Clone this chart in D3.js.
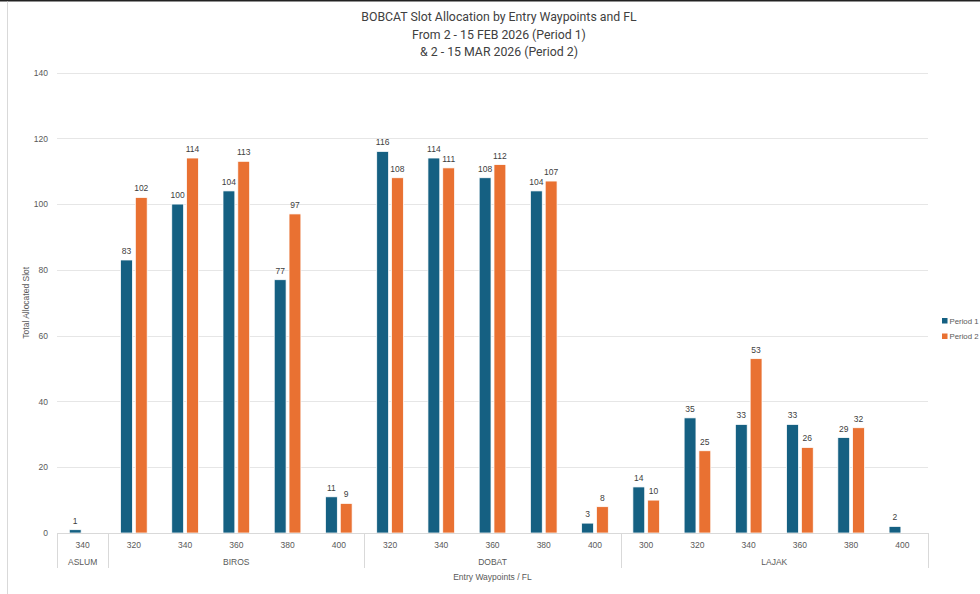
<!DOCTYPE html>
<html>
<head>
<meta charset="utf-8">
<script src="https://cdn.jsdelivr.net/npm/d3@7"></script>
<style>
  html, body { margin: 0; padding: 0; background: #fff; }
  svg { display: block; font-family: "Liberation Sans", Arial, sans-serif; }
</style>
</head>
<body>
<svg id="chart" width="980" height="594"></svg>
<script>
// Entry waypoint and flight level of each category on the x axis
const waypoints = ["ASLUM", "BIROS", "BIROS", "BIROS", "BIROS", "BIROS",
  "DOBAT", "DOBAT", "DOBAT", "DOBAT", "DOBAT",
  "LAJAK", "LAJAK", "LAJAK", "LAJAK", "LAJAK", "LAJAK"];
const flightLevels = ["340", "320", "340", "360", "380", "400",
  "320", "340", "360", "380", "400",
  "300", "320", "340", "360", "380", "400"];
// Allocated slots per period (null = no slots)
const period1 = [1, 83, 100, 104, 77, 11, 116, 114, 108, 104, 3, 14, 35, 33, 33, 29, 2];
const period2 = [null, 102, 114, 113, 97, 9, 108, 111, 112, 107, 8, 10, 25, 53, 26, 32, null];
const seriesNames = ["Period 1", "Period 2"];
const seriesColors = ["#156082", "#E97132"];
const yTicks = [0, 20, 40, 60, 80, 100, 120, 140];
const titleLines = ["BOBCAT Slot Allocation by Entry Waypoints and FL",
  "From 2 - 15 FEB 2026 (Period 1)",
  "& 2 - 15 MAR 2026 (Period 2)"];

const svg = d3.select("#chart");
const W = 980, H = 594;
const plot = { left: 57, right: 928, top: 72.5, bottom: 533 };

// chart frame
svg.append("line").attr("x1", 0).attr("x2", W).attr("y1", 0.75).attr("y2", 0.75)
  .attr("stroke", "#222").attr("stroke-width", 1.5);
svg.append("line").attr("x1", 7.5).attr("x2", 7.5).attr("y1", 1.5).attr("y2", H)
  .attr("stroke", "#d9d9d9").attr("stroke-width", 1);

// title
svg.append("g").selectAll("text").data(titleLines).join("text")
  .attr("x", 499).attr("y", (d, i) => 21 + i * 17.5)
  .attr("text-anchor", "middle")
  .attr("font-family", "Roboto, sans-serif")
  .attr("font-size", 12.3).attr("fill", "#404040")
  .text(d => d);

const idx = d3.range(waypoints.length);
const x = d3.scaleBand().domain(idx).range([plot.left, plot.right]).padding(0);
const bw = x.bandwidth();
const x1 = d3.scaleBand().domain([0, 1]).range([bw * 0.24, bw * 0.76]).paddingInner(0.2);
const y = d3.scaleLinear().domain([0, 140]).range([plot.bottom, plot.top]);

// gridlines
svg.append("g").selectAll("line").data(yTicks.filter(t => t > 0)).join("line")
  .attr("x1", plot.left).attr("x2", plot.right)
  .attr("y1", d => Math.round(y(d)) + 0.5).attr("y2", d => Math.round(y(d)) + 0.5)
  .attr("stroke", "#e6e6e6").attr("stroke-width", 1);

// y axis tick labels
const yAxis = d3.axisLeft(y).tickValues(yTicks).tickSize(0).tickPadding(0);
const yg = svg.append("g").attr("transform", `translate(${plot.left - 9},0)`).call(yAxis);
yg.select(".domain").remove();
yg.selectAll("text").attr("font-size", 8.5).attr("fill", "#595959")
  .attr("font-family", "'Liberation Sans', Arial, sans-serif");

// y axis title
svg.append("text")
  .attr("transform", `translate(29,${(plot.top + plot.bottom) / 2}) rotate(-90)`)
  .attr("text-anchor", "middle").attr("font-size", 8.5).attr("fill", "#595959")
  .text("Total Allocated Slot");

// bars
const series = [period1, period2];
const barData = [];
idx.forEach(i => series.forEach((s, k) => {
  if (s[i] != null) barData.push({ i, k, v: s[i] });
}));
svg.append("g").selectAll("rect").data(barData).join("rect")
  .attr("x", d => x(d.i) + x1(d.k))
  .attr("width", x1.bandwidth())
  .attr("y", d => y(d.v))
  .attr("height", d => y(0) - y(d.v))
  .attr("fill", d => seriesColors[d.k])
  .attr("stroke", "#fff").attr("stroke-width", 0.75);

// value labels
svg.append("g").selectAll("text").data(barData).join("text")
  .attr("x", d => x(d.i) + x1(d.k) + x1.bandwidth() / 2)
  .attr("y", d => y(d.v) - 6)
  .attr("text-anchor", "middle").attr("font-size", 8.5).attr("fill", "#404040")
  .text(d => d.v);

// x axis line
svg.append("line").attr("x1", plot.left).attr("x2", plot.right)
  .attr("y1", plot.bottom + 0.5).attr("y2", plot.bottom + 0.5)
  .attr("stroke", "#d9d9d9").attr("stroke-width", 1);

// flight level labels
svg.append("g").selectAll("text").data(idx).join("text")
  .attr("x", i => x(i) + bw / 2).attr("y", 548)
  .attr("text-anchor", "middle").attr("font-size", 8.5).attr("fill", "#595959")
  .text(i => flightLevels[i]);

// waypoint groups and separators
const groups = [];
idx.forEach(i => {
  const g = groups.length ? groups[groups.length - 1] : null;
  if (g && g.name === waypoints[i]) g.end = i;
  else groups.push({ name: waypoints[i], start: i, end: i });
});
const sepX = [plot.left].concat(groups.map(g => x(g.end) + bw));
svg.append("g").selectAll("line").data(sepX).join("line")
  .attr("x1", d => Math.round(d) + 0.5).attr("x2", d => Math.round(d) + 0.5)
  .attr("y1", plot.bottom).attr("y2", 568)
  .attr("stroke", "#d9d9d9").attr("stroke-width", 1);
svg.append("g").selectAll("text").data(groups).join("text")
  .attr("x", g => (x(g.start) + x(g.end) + bw) / 2).attr("y", 564.5)
  .attr("text-anchor", "middle").attr("font-size", 8.5).attr("fill", "#595959")
  .text(g => g.name);

// x axis title
svg.append("text").attr("x", (plot.left + plot.right) / 2 + 0).attr("y", 580)
  .attr("text-anchor", "middle").attr("font-size", 8.5).attr("fill", "#595959")
  .text("Entry Waypoints / FL");

// legend
const lg = svg.append("g").selectAll("g").data(seriesNames).join("g")
  .attr("transform", (d, i) => `translate(942,${318 + i * 15.5})`);
lg.append("rect").attr("width", 5.5).attr("height", 5.5).attr("fill", (d, i) => seriesColors[i]);
lg.append("text").attr("x", 7.5).attr("y", 5.5).attr("font-size", 7.8).attr("fill", "#595959").text(d => d);
</script>
</body>
</html>
